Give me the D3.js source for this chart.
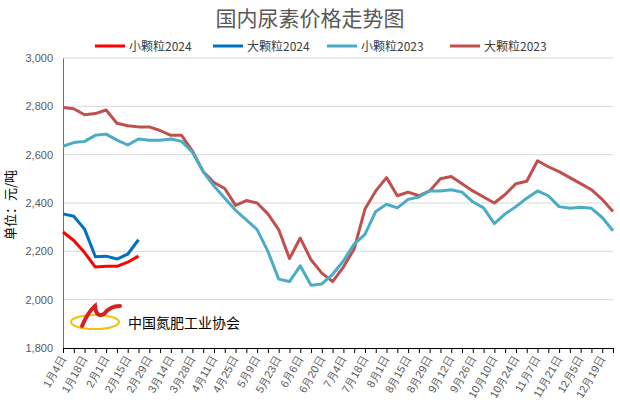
<!DOCTYPE html>
<html><head><meta charset="utf-8">
<script src="https://cdn.jsdelivr.net/npm/d3@7"></script>
<style>body{margin:0;background:#fff}svg{font-family:"Noto Sans CJK SC",sans-serif}</style>
</head><body><svg id="c" width="620" height="414"></svg>
<script>
var dates = ['1月4日','1月11日','1月18日','1月25日','2月1日','2月8日','2月15日','2月22日','2月29日','3月7日','3月14日','3月21日','3月28日','4月4日','4月11日','4月18日','4月25日','5月2日','5月9日','5月16日','5月23日','5月30日','6月6日','6月13日','6月20日','6月27日','7月4日','7月11日','7月18日','7月25日','8月1日','8月8日','8月15日','8月22日','8月29日','9月5日','9月12日','9月19日','9月26日','10月3日','10月10日','10月17日','10月24日','10月31日','11月7日','11月14日','11月21日','11月28日','12月5日','12月12日','12月19日','12月26日'];
var small2024 = [2280,2245,2195,2135,2138,2138,2155,2180];
var large2024 = [2355,2345,2292,2178,2180,2168,2188,2248];
var small2023 = [2635,2650,2655,2680,2685,2660,2640,2665,2660,2660,2665,2655,2610,2530,2470,2420,2370,2330,2290,2200,2085,2075,2140,2060,2065,2105,2160,2230,2270,2365,2395,2380,2415,2425,2450,2450,2455,2445,2405,2380,2315,2355,2385,2420,2450,2430,2385,2378,2382,2378,2340,2285];
var large2023 = [2795,2790,2765,2770,2785,2730,2720,2715,2715,2700,2680,2680,2615,2530,2485,2460,2390,2410,2400,2355,2290,2170,2255,2165,2110,2075,2135,2210,2375,2450,2505,2430,2445,2430,2450,2500,2510,2480,2450,2425,2400,2435,2480,2490,2575,2550,2530,2505,2480,2455,2415,2365];
var yTicks = [1800,2000,2200,2400,2600,2800,3000];
var series = [
  {name:'小颗粒2024', values:small2024, color:'#ff0000'},
  {name:'大颗粒2024', values:large2024, color:'#0070c0'},
  {name:'小颗粒2023', values:small2023, color:'#4bacc6'},
  {name:'大颗粒2023', values:large2023, color:'#c0504d'}
];

var svg = d3.select('#c');
var x = d3.scalePoint().domain(dates).range([63, 613]);
var y = d3.scaleLinear().domain([1800, 3000]).range([348, 58]);

svg.append('text').attr('x', 310).attr('y', 26).attr('text-anchor', 'middle')
  .attr('font-size', 21).attr('fill', '#595959').text('国内尿素价格走势图');

// grid
svg.selectAll('.grid').data(yTicks.slice(1)).enter().append('line')
  .attr('x1', 63).attr('x2', 613).attr('y1', y).attr('y2', y)
  .attr('stroke', '#d9d9d9').attr('stroke-width', 1);

var ya = svg.append('g').attr('transform', 'translate(63,0)')
  .call(d3.axisLeft(y).tickValues(yTicks).tickFormat(d3.format(',')).tickSize(0).tickPadding(10));
ya.select('.domain').attr('stroke', '#4472c4');
ya.selectAll('text').attr('font-size', 11).attr('fill', '#595959').attr('font-family', 'Liberation Sans');

var xa = svg.append('g').attr('transform', 'translate(0,348)')
  .call(d3.axisBottom(x).tickSize(5).tickSizeOuter(0).tickFormat(function(d, i){ return i % 2 ? '' : d; }));
xa.select('.domain').attr('stroke', '#000');
xa.selectAll('line').attr('stroke', '#000');
xa.selectAll('text').attr('font-size', 11).attr('fill', '#595959')
  .attr('text-anchor', 'end').attr('x', -8).attr('y', 4).attr('dy', '0.35em')
  .attr('transform', 'rotate(-60)');

svg.append('text').attr('transform', 'translate(15,205) rotate(-90)')
  .attr('text-anchor', 'middle').attr('font-size', 13).attr('fill', '#000').text('单位：元/吨');

var line = d3.line().x(function(d, i){ return x(dates[i]); }).y(function(d){ return y(d); });
series.slice().reverse().forEach(function(s){
  svg.append('path').attr('d', line(s.values)).attr('fill', 'none')
    .attr('stroke', s.color).attr('stroke-width', 3).attr('stroke-linejoin', 'round');
});

// legend
var lx = [95, 213, 327, 450];
series.forEach(function(s, i){
  svg.append('line').attr('x1', lx[i]).attr('x2', lx[i] + 30).attr('y1', 46).attr('y2', 46)
    .attr('stroke', s.color).attr('stroke-width', 3);
  svg.append('text').attr('x', lx[i] + 34).attr('y', 51).attr('font-size', 12)
    .attr('fill', '#404040').text(s.name);
});

// association logo
svg.append('ellipse').attr('cx', 95).attr('cy', 322).attr('rx', 24).attr('ry', 7)
  .attr('fill', 'none').attr('stroke', '#f2c200').attr('stroke-width', 2);
svg.append('path').attr('d', 'M82,326 Q88,312 95,306 Q96,318 104,314 Q110,306 120,306')
  .attr('fill', 'none').attr('stroke', '#d82020').attr('stroke-width', 4).attr('stroke-linecap', 'round');
svg.append('text').attr('x', 128).attr('y', 328).attr('font-size', 14).attr('fill', '#000').text('中国氮肥工业协会');
</script></body></html>
